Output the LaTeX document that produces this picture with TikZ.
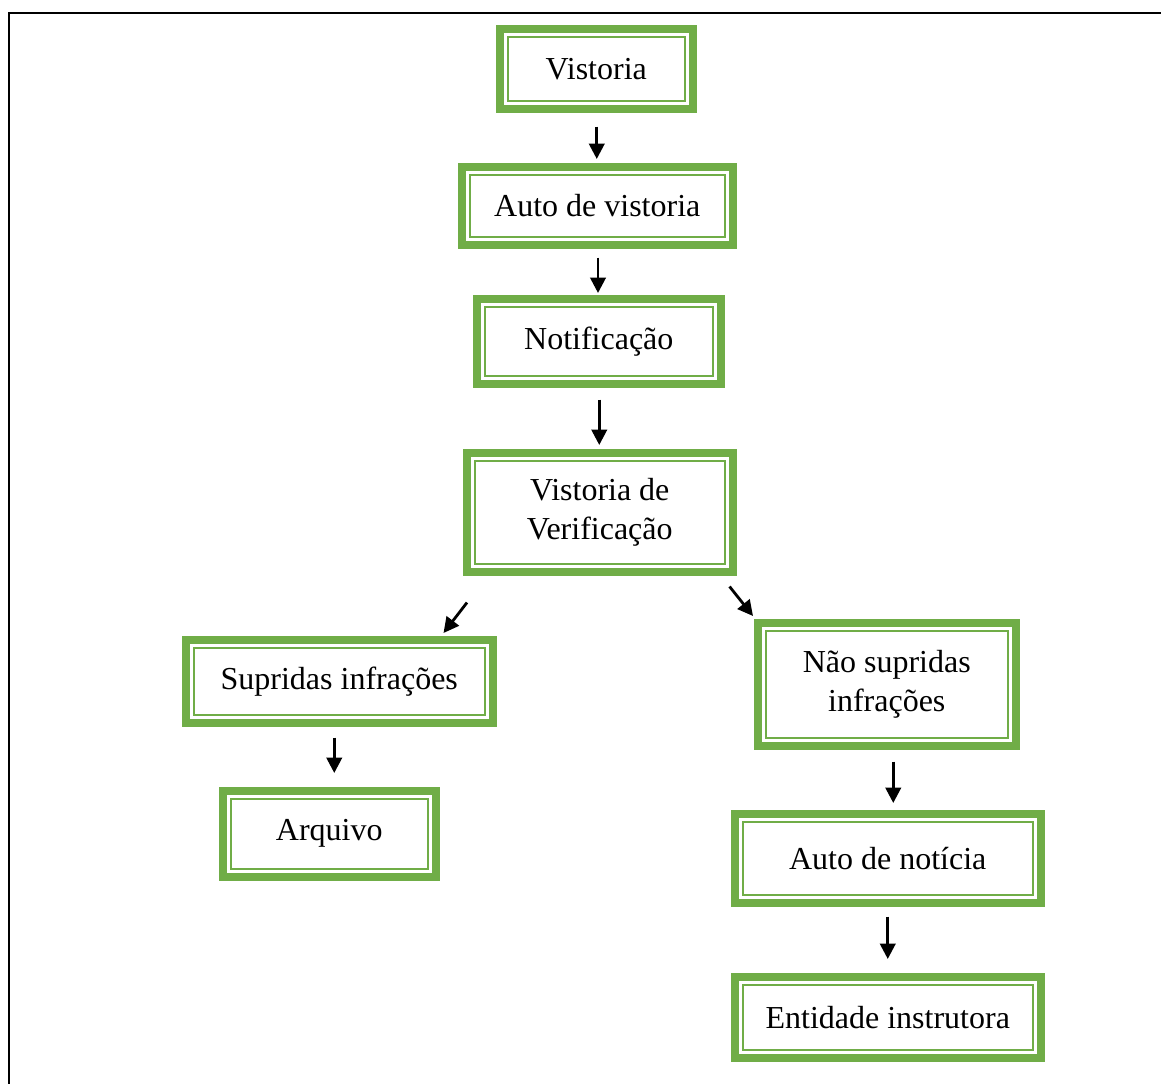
\documentclass[tikz,border=0pt]{standalone}
\usepackage{fontspec}
\setmainfont{Liberation Serif}
\usetikzlibrary{arrows.meta,calc}
\definecolor{boxgreen}{HTML}{70AD47}
\tikzset{
  stepbox/.style={anchor=north west, inner sep=0pt, draw=none, align=center,
    font=\fontsize{24}{29}\selectfont, text=black},
  arr/.style={draw=black, line width=2.1pt, -{Triangle[length=11.5pt,width=11.5pt]}},
  frameline/.style={draw=black, line width=2.2pt},
}
\begin{document}
\begin{tikzpicture}[x=0.75pt,y=-0.75pt]
\useasboundingbox (0,0) rectangle (1161,1084);
\draw[frameline] (9,1084) -- (9,13) -- (1161,13);

\node[stepbox, minimum width=150pt, minimum height=65.25pt] (v1) at (496,25) {Vistoria};
\node[stepbox, minimum width=208.5pt, minimum height=63.75pt] (v2) at (458,163) {Auto de vistoria};
\node[stepbox, minimum width=188.25pt, minimum height=69pt] (v3) at (473,295) {Notificação};
\node[stepbox, minimum width=204.75pt, minimum height=94.5pt] (v4) at (463,449) {Vistoria de\\Verificação};
\node[stepbox, minimum width=235.5pt, minimum height=67.5pt] (v5) at (182,636) {Supridas infrações};
\node[stepbox, minimum width=165pt, minimum height=69.75pt] (v6) at (219,787) {Arquivo};
\node[stepbox, minimum width=198.75pt, minimum height=97.5pt] (v7) at (754,619) {Não supridas\\infrações};
\node[stepbox, minimum width=234.75pt, minimum height=72pt] (v8) at (731,810) {Auto de notícia};
\node[stepbox, minimum width=234.75pt, minimum height=66pt] (v9) at (731,973) {Entidade instrutora};

\foreach \n in {v1,v2,v3,v4,v5,v6,v7,v8,v9}{
  \draw[boxgreen, line width=6pt]
    ([shift={(3pt,-3pt)}]\n.north west) rectangle ([shift={(-3pt,3pt)}]\n.south east);
  \draw[boxgreen, line width=1.5pt]
    ([shift={(9pt,-9pt)}]\n.north west) rectangle ([shift={(-9pt,9pt)}]\n.south east);
}

% vertical connectors
\coordinate (m12) at ($(v1.south)!0.5!(v2.north)$);
\draw[arr] ([yshift=-10.5pt]m12 |- v1.south) -- ([yshift=3pt]m12 |- v2.north);
\coordinate (m23) at ($(v2.south)!0.5!(v3.north)$);
\draw[arr] ([yshift=-6.75pt]m23 |- v2.south) -- ([yshift=1.5pt]m23 |- v3.north);
\coordinate (m34) at ($(v3.south)!0.5!(v4.north)$);
\draw[arr] ([yshift=-9pt]m34 |- v3.south) -- ([yshift=3pt]m34 |- v4.north);
\coordinate (m56) at ($(v5.south)!0.5!(v6.north)$);
\draw[arr] ([yshift=-8.25pt]m56 |- v5.south) -- ([yshift=10.5pt]m56 |- v6.north);
\coordinate (m78) at ([xshift=4.5pt]$(v7.south)!0.5!(v8.north)$);
\draw[arr] ([yshift=-9pt]m78 |- v7.south) -- ([yshift=5.25pt]m78 |- v8.north);
\coordinate (m89) at ($(v8.south)!0.5!(v9.north)$);
\draw[arr] ([yshift=-7.5pt]m89 |- v8.south) -- ([yshift=10.5pt]m89 |- v9.north);

% diagonal connectors
\draw[arr] ([shift={(3pt,-20.25pt)}]v4.south west) -- ([shift={(-39.75pt,2.25pt)}]v5.north east);
\draw[arr] ([shift={(-5.25pt,-8.25pt)}]v4.south east) -- ([shift={(-0.75pt,2.25pt)}]v7.north west);
\end{tikzpicture}
\end{document}
